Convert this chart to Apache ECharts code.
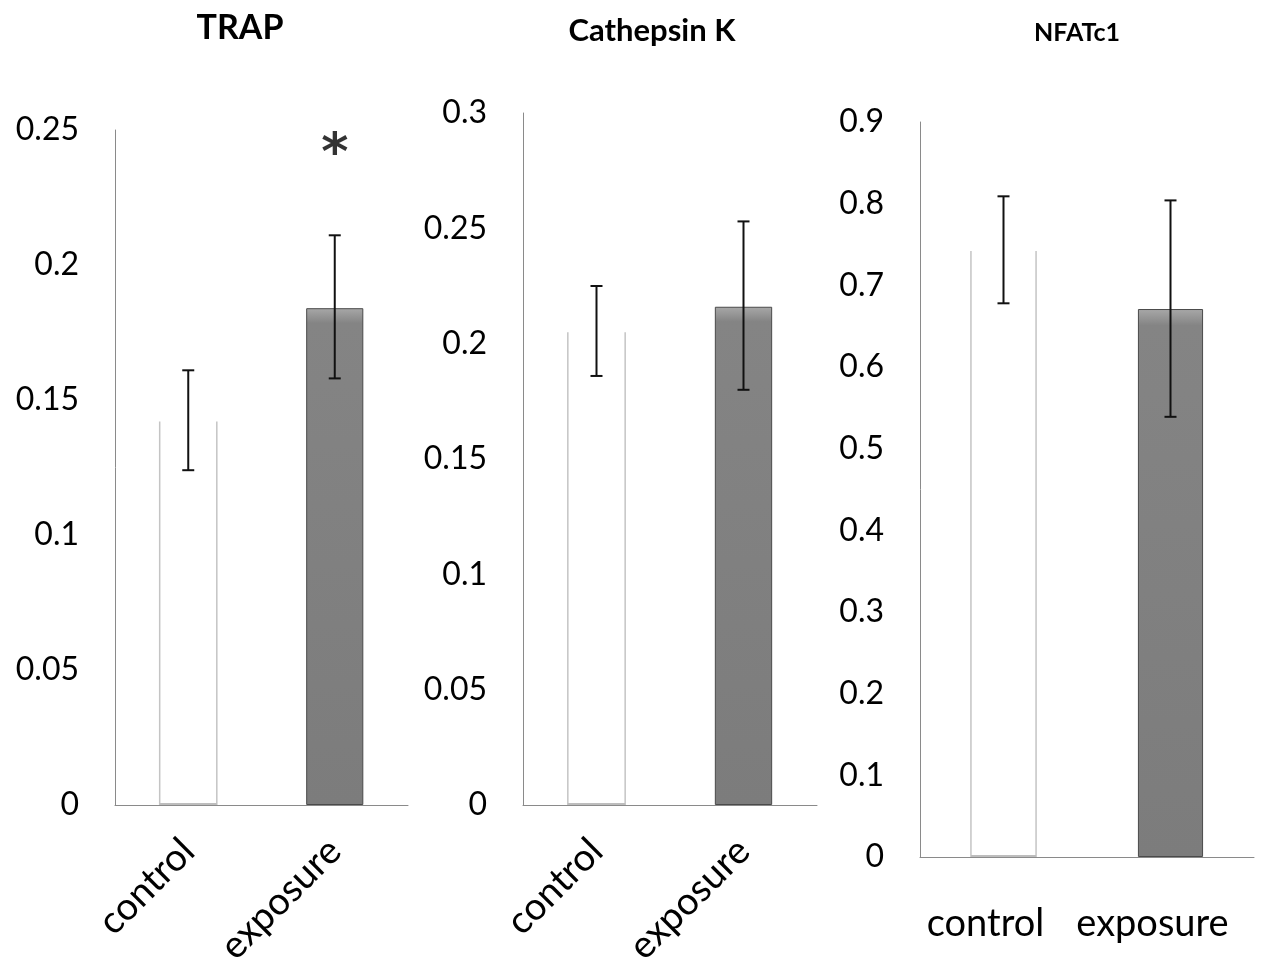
<!DOCTYPE html>
<html lang="en">
<head>
  <meta charset="UTF-8">
  <title>TRAP / Cathepsin K / NFATc1</title>
  <style>
    html, body { margin: 0; padding: 0; background: #fff; }
    #chart { width: 1262px; height: 976px; }
  </style>
  <script src="https://cdn.jsdelivr.net/npm/echarts@6/dist/echarts.min.js"></script>
</head>
<body>
  <div id="chart"></div>
<script>
  // groups on the x axis
  var categories = ['control', 'exposure'];

  // TRAP panel
  var trapMean = [0.142, 0.184];
  var trapLow = [0.124, 0.158];
  var trapHigh = [0.161, 0.211];

  // Cathepsin K panel
  var ctskMean = [0.205, 0.216];
  var ctskLow = [0.186, 0.180];
  var ctskHigh = [0.225, 0.253];

  // NFATc1 panel
  var nfatMean = [0.742, 0.671];
  var nfatLow = [0.678, 0.539];
  var nfatHigh = [0.809, 0.804];

  // y axis ranges
  var axisMax = [0.25, 0.3, 0.9];
  var axisStep = [0.05, 0.05, 0.1];

  // significance mark (TRAP, exposure)
  var starMark = [[1, 0.246]];

  var FONT = 'Lato, "Open Sans", sans-serif';
  var BAR_FRAC = 0.39;

  var myChart = echarts.init(document.getElementById('chart'));

  // control bar: only its two side lines are drawn, like the scan
  function renderHollow(params, api) {
    var top = api.coord([api.value(0), api.value(1)]);
    var base = api.coord([api.value(0), 0]);
    var w = api.size([1, 0])[0] * BAR_FRAC;
    var style = { stroke: '#c4c4c4', lineWidth: 1.5 };
    return {
      type: 'group',
      children: [
        { type: 'line', shape: { x1: top[0] - w / 2, y1: top[1], x2: base[0] - w / 2, y2: base[1] }, style: style },
        { type: 'line', shape: { x1: top[0] + w / 2, y1: top[1], x2: base[0] + w / 2, y2: base[1] }, style: style },
        { type: 'line', shape: { x1: base[0] - w / 2, y1: base[1] - 1, x2: base[0] + w / 2, y2: base[1] - 1 }, style: { stroke: '#bdbdbd', lineWidth: 2 } }
      ]
    };
  }

  // error bars with caps
  function renderErr(params, api) {
    var lo = api.coord([api.value(0), api.value(1)]);
    var hi = api.coord([api.value(0), api.value(2)]);
    var cap = 6;
    var style = { stroke: '#111', lineWidth: 2 };
    return {
      type: 'group',
      children: [
        { type: 'line', shape: { x1: lo[0], y1: lo[1], x2: hi[0], y2: hi[1] }, style: style },
        { type: 'line', shape: { x1: lo[0] - cap, y1: lo[1], x2: lo[0] + cap, y2: lo[1] }, style: style },
        { type: 'line', shape: { x1: hi[0] - cap, y1: hi[1], x2: hi[0] + cap, y2: hi[1] }, style: style }
      ]
    };
  }

  function panelSeries(idx, mean, low, high) {
    var list = [];
    // control (hollow)
    list.push({
      type: 'custom', xAxisIndex: idx, yAxisIndex: idx,
      renderItem: renderHollow,
      data: [[0, mean[0]]], z: 2
    });
    // exposure (filled gray)
    list.push({
      type: 'bar', xAxisIndex: idx, yAxisIndex: idx,
      barWidth: (BAR_FRAC * 100) + '%',
      data: ['-', mean[1]],
      itemStyle: {
        color: new echarts.graphic.LinearGradient(0, 0, 0, 1, [
          { offset: 0, color: '#a8a8a8' },
          { offset: 0.03, color: '#848484' },
          { offset: 1, color: '#7c7c7c' }
        ]),
        borderColor: '#4a4a4a', borderWidth: 1
      },
      z: 2
    });
    list.push({
      type: 'custom', xAxisIndex: idx, yAxisIndex: idx,
      renderItem: renderErr,
      encode: { x: 0, y: [1, 2] },
      data: categories.map(function (c, i) { return [i, low[i], high[i]]; }),
      z: 5
    });
    return list;
  }

  var grids = [
    { left: 115, top: 130, width: 293, height: 675 },
    { left: 523, top: 113, width: 294, height: 692 },
    { left: 920, top: 122, width: 334, height: 735 }
  ];

  var xAxes = grids.map(function (g, i) {
    return {
      type: 'category', gridIndex: i, data: categories,
      axisTick: { show: false },
      axisLine: { lineStyle: { color: '#8a8a8a', width: 1 } },
      axisLabel: i < 2 ? {
        rotate: 45, interval: 0, fontSize: 38, color: '#000', fontFamily: FONT, margin: 40
      } : {
        rotate: 0, interval: 0, hideOverlap: false, fontSize: 38, color: '#000', fontFamily: FONT, margin: 48,
        padding: [0, 36, 0, 0]
      }
    };
  });

  var yAxes = grids.map(function (g, i) {
    return {
      type: 'value', gridIndex: i, min: 0, max: axisMax[i], interval: axisStep[i],
      axisLine: { show: true, lineStyle: { color: '#8a8a8a', width: 1 } },
      axisTick: { show: false },
      splitLine: { show: false },
      axisLabel: { fontSize: 32, color: '#000', fontFamily: FONT, margin: 36 }
    };
  });

  var series = []
    .concat(panelSeries(0, trapMean, trapLow, trapHigh))
    .concat(panelSeries(1, ctskMean, ctskLow, ctskHigh))
    .concat(panelSeries(2, nfatMean, nfatLow, nfatHigh));

  series.push({
    type: 'scatter', xAxisIndex: 0, yAxisIndex: 0,
    symbolSize: 1, itemStyle: { color: 'transparent' },
    data: starMark,
    label: {
      show: true, position: 'inside', formatter: '*',
      fontSize: 52, fontWeight: 'bold', color: '#000', fontFamily: '"DejaVu Sans", sans-serif',
      offset: [0, 15]
    }
  });

  var option = {
    animation: false,
    backgroundColor: '#fff',
    title: [
      { text: 'TRAP', left: 235, top: 6, textAlign: 'center',
        textStyle: { fontSize: 34, fontWeight: 'bold', color: '#000', fontFamily: FONT } },
      { text: 'Cathepsin K', left: 647, top: 10, textAlign: 'center',
        textStyle: { fontSize: 31, fontWeight: 'bold', color: '#000', fontFamily: FONT } },
      { text: 'NFATc1', left: 1072, top: 15, textAlign: 'center',
        textStyle: { fontSize: 25, fontWeight: 'bold', color: '#000', fontFamily: FONT } }
    ],
    grid: grids,
    xAxis: xAxes,
    yAxis: yAxes,
    series: series
  };

  myChart.setOption(option);
</script>
</body>
</html>
